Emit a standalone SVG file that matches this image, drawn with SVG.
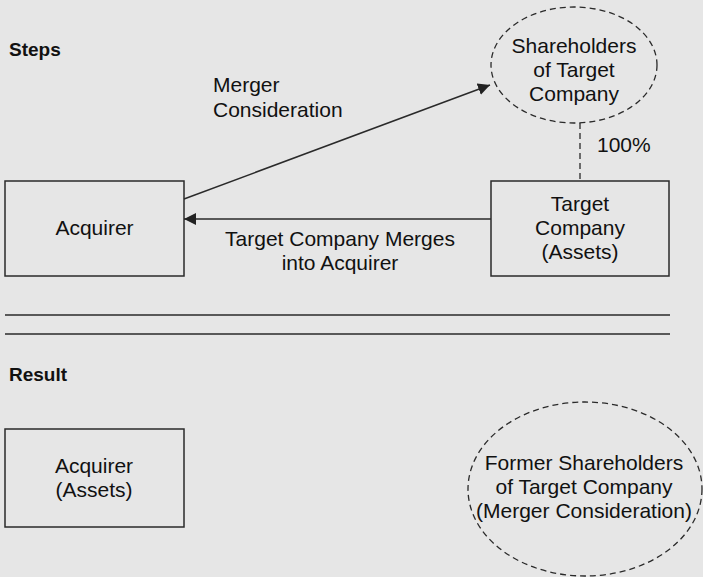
<svg xmlns="http://www.w3.org/2000/svg" width="703" height="577" viewBox="0 0 703 577">
<defs>
<style>
.t{font-family:"Liberation Sans",Arial,sans-serif;font-size:21px;fill:#111;}
.c{text-anchor:middle;}
.h{font-family:"Liberation Sans",Arial,sans-serif;font-size:19px;font-weight:bold;fill:#111;}
.box{fill:none;stroke:#2a2a2a;stroke-width:1.5;}
.dash{fill:none;stroke:#2a2a2a;stroke-width:1.3;stroke-dasharray:6,4;}
.ln{stroke:#2a2a2a;stroke-width:1.5;fill:none;}
</style>
<marker id="ah" viewBox="0 0 10 10" refX="10" refY="5" markerWidth="12" markerHeight="12" markerUnits="userSpaceOnUse" orient="auto">
<path d="M0,0 L10,5 L0,10 z" fill="#222"/>
</marker>
</defs>
<rect width="703" height="577" fill="#e6e6e6"/>
<text class="h" x="9" y="56">Steps</text>
<text class="h" x="9" y="381">Result</text>
<g id="acquirer">
<rect class="box" x="5" y="181" width="179" height="95"/>
<text class="t c" x="94.5" y="235">Acquirer</text>
</g>
<g id="target">
<rect class="box" x="491" y="181" width="178" height="95"/>
<text class="t c" x="580" y="211">Target</text>
<text class="t c" x="580" y="235">Company</text>
<text class="t c" x="580" y="259">(Assets)</text>
</g>
<g id="shareholders">
<ellipse class="dash" cx="574" cy="65" rx="83" ry="58"/>
<text class="t c" x="574" y="53">Shareholders</text>
<text class="t c" x="574" y="77">of Target</text>
<text class="t c" x="574" y="101">Company</text>
</g>
<g id="acquirer-result">
<rect class="box" x="5" y="429" width="179" height="98"/>
<text class="t c" x="94" y="473">Acquirer</text>
<text class="t c" x="94" y="497">(Assets)</text>
</g>
<g id="former-shareholders">
<ellipse class="dash" cx="585" cy="489" rx="117" ry="87"/>
<text class="t c" x="584" y="470">Former Shareholders</text>
<text class="t c" x="584" y="494">of Target Company</text>
<text class="t c" x="584" y="518">(Merger Consideration)</text>
</g>
<g id="connectors">
<line class="ln" x1="184" y1="199" x2="490" y2="85" marker-end="url(#ah)"/>
<line class="ln" x1="491" y1="219" x2="184" y2="219" marker-end="url(#ah)"/>
<line class="dash" x1="580" y1="123" x2="580" y2="181"/>
<line class="ln" x1="5" y1="315" x2="670" y2="315"/>
<line class="ln" x1="5" y1="334" x2="670" y2="334"/>
</g>
<g id="labels">
<text class="t" x="213" y="92">Merger</text>
<text class="t" x="213" y="117">Consideration</text>
<text class="t" x="597" y="152">100%</text>
<text class="t c" x="340" y="246">Target Company Merges</text>
<text class="t c" x="340" y="270">into Acquirer</text>
</g>
</svg>
